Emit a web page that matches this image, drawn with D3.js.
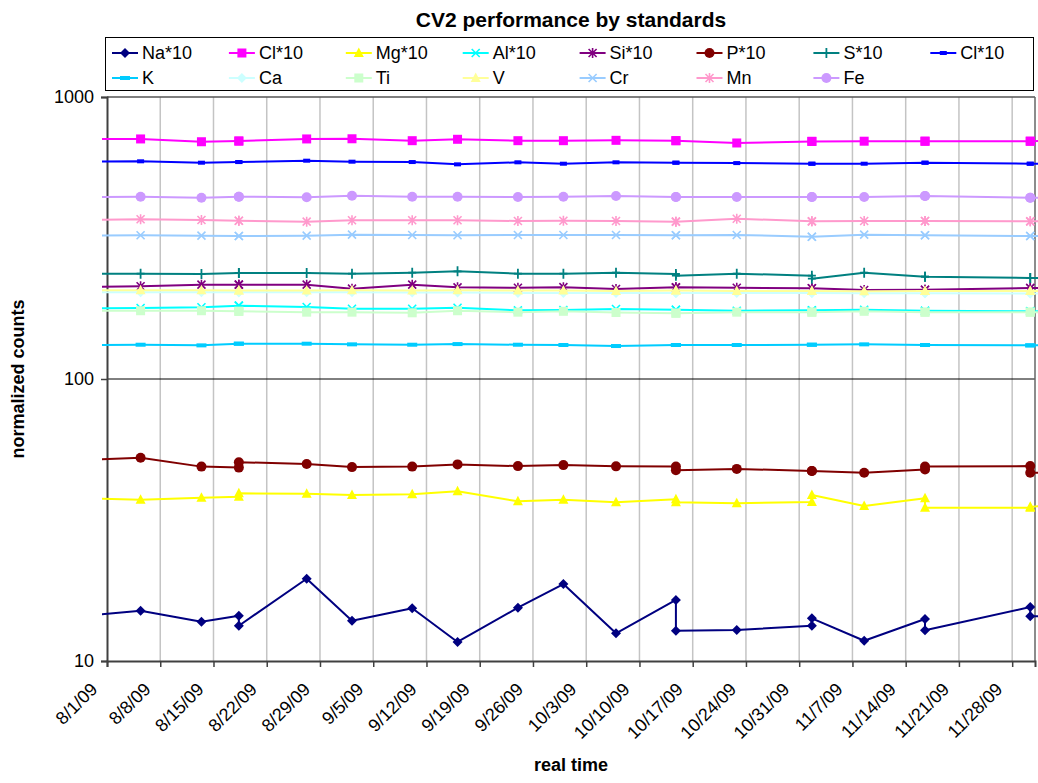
<!DOCTYPE html>
<html>
<head>
<meta charset="utf-8">
<script src="https://cdn.jsdelivr.net/npm/d3@7"></script>
<style>
  html, body { margin: 0; padding: 0; background: #fff; }
  svg { display: block; font-family: "Liberation Sans", Arial, sans-serif; }
</style>
</head>
<body>
<svg id="chart" width="1038" height="783"></svg>
<script>
// ---------------- data ----------------
const chartTitle = "CV2 performance by standards";
const xTitle = "real time";
const yTitle = "normalized counts";

// measurement times (first and last lie just outside the visible window)
const times = [
  "2009-07-29 00:00", "2009-08-05 10:00", "2009-08-13 10:00", "2009-08-18 08:00", "2009-08-18 08:00",
  "2009-08-27 06:00", "2009-09-02 05:00", "2009-09-10 03:00", "2009-09-16 02:00", "2009-09-24 00:30",
  "2009-09-30 00:00", "2009-10-06 22:00", "2009-10-14 19:00", "2009-10-14 19:00", "2009-10-22 19:00",
  "2009-11-01 16:00", "2009-11-01 16:00", "2009-11-08 13:00", "2009-11-16 13:00", "2009-11-16 13:00",
  "2009-11-30 09:00", "2009-11-30 09:00", "2009-12-04 00:00"
];

const seriesNames = ["Na*10", "Cl*10", "Mg*10", "Al*10", "Si*10", "P*10", "S*10", "Cl*10",
                     "K", "Ca", "Ti", "V", "Cr", "Mn", "Fe"];
const seriesColors = ["#000080", "#FF00FF", "#FFFF00", "#00FFFF", "#800080", "#800000", "#008080", "#0000FF",
                      "#00CCFF", "#CCFFFF", "#CCFFCC", "#FFFF99", "#99CCFF", "#FF99CC", "#CC99FF"];
const seriesMarkers = ["diamond", "square", "triangle", "x", "star", "circle", "plus", "dash",
                       "dashWide", "diamond", "square", "triangle", "x", "star", "circle"];

const naValues  = [14.47, 15.08, 13.79, 14.47, 13.34, 19.58, 13.9, 15.38, 11.68, 15.45, 18.75, 12.54, 16.46, 12.8, 12.88, 13.34, 14.17, 11.8, 14.09, 12.85, 15.54, 14.4, 14.4];
const cl1Values = [710, 710, 694, 698, 698, 710, 711, 700, 708, 700, 700, 702, 700, 700, 687, 696, 696, 697, 697, 697, 697, 697, 700];
const mgValues  = [37.76, 37.33, 37.95, 38.25, 39.33, 39.2, 38.8, 39.0, 40.0, 36.84, 37.33, 36.54, 37.48, 36.54, 36.25, 36.63, 38.8, 35.44, 37.76, 34.96, 34.96, 35.2, 35.73];
const alValues  = [178.1, 178.6, 179.6, 182, 182, 180, 177.5, 177.5, 179, 175.2, 175.6, 177.1, 176.1, 176.1, 174.6, 175.2, 175.2, 176.1, 174.6, 174.6, 173.8, 173.8, 173.8];
const siValues  = [212, 213.2, 216, 216, 216, 216, 209.1, 216, 211.4, 210.7, 211.7, 208.5, 211.4, 211.4, 210.7, 209.7, 209.7, 206.8, 207.3, 207.3, 210.2, 210.2, 210.2];
const pValues   = [51.6, 52.6, 48.9, 48.5, 50.7, 49.96, 48.7, 48.9, 49.8, 49.1, 49.5, 49.0, 48.9, 47.5, 48.0, 47.2, 47.2, 46.5, 47.8, 48.9, 49.1, 46.5, 46.5];
const sValues   = [236.3, 236.3, 235.7, 237.6, 237.6, 237.6, 236.3, 238.2, 240.9, 236.3, 236.3, 238.2, 235.7, 232.5, 236.3, 232.5, 226.9, 238.2, 230.6, 230.6, 228.2, 228.2, 228.2];
const cl2Values = [589.7, 591.5, 584.8, 588, 588, 594.5, 589.7, 588, 577, 586.7, 580, 586.7, 584.8, 584.8, 583, 580, 580, 580, 584.8, 584.8, 580, 580, 580];
const kValues   = [132.0, 132.3, 131.6, 133.4, 133.4, 133.4, 132.7, 132.3, 133.0, 132.3, 132.0, 130.9, 132.0, 132.0, 132.0, 132.3, 132.3, 132.7, 132.0, 132.0, 131.6, 131.6, 131.6];
const caValues  = [203, 203, 203, 203, 203, 203, 203, 202.5, 202.5, 202, 202, 202, 202, 202, 202, 202, 202, 201.5, 201.5, 201.5, 201, 201, 201];
const tiValues  = [174.6, 174.6, 174.6, 173.8, 173.8, 172.6, 172.6, 171.7, 174.6, 172.6, 173.8, 172.1, 171.2, 171.2, 172.6, 172.6, 172.6, 173.8, 172.6, 172.6, 172.6, 172.6, 172.6];
const vValues   = [206.6, 206.6, 206.6, 206, 206, 206, 206.6, 206, 206.6, 206, 206, 205.3, 206, 206, 205.3, 205.3, 205.3, 204.6, 205.3, 205.3, 205.3, 205.3, 205.3];
const crValues  = [322.3, 323.3, 322.3, 321.5, 321.5, 322.3, 324.9, 324.1, 323.3, 324.1, 324.1, 324.1, 323.3, 323.3, 324.1, 319.6, 319.6, 324.9, 323.3, 323.3, 321.5, 321.5, 321.5];
const mnValues  = [366.3, 368.4, 366.3, 364.2, 364.2, 361.3, 365.4, 365.4, 365.4, 363.4, 364.2, 363.4, 361.3, 361.3, 370.2, 362.3, 362.3, 363.4, 363.4, 363.4, 362.3, 362.3, 362.3];
const feValues  = [441.9, 443, 439.5, 443, 443, 440.8, 446.7, 443, 443, 441.9, 443, 445.6, 441.9, 441.9, 441.9, 441.9, 441.9, 441.9, 445.6, 445.6, 439.5, 439.5, 439.5];

const seriesValues = [naValues, cl1Values, mgValues, alValues, siValues, pValues, sValues, cl2Values,
                      kValues, caValues, tiValues, vValues, crValues, mnValues, feValues];

const xTickLabels = ["8/1/09", "8/8/09", "8/15/09", "8/22/09", "8/29/09", "9/5/09", "9/12/09", "9/19/09",
  "9/26/09", "10/3/09", "10/10/09", "10/17/09", "10/24/09", "10/31/09", "11/7/09", "11/14/09", "11/21/09", "11/28/09"];
const yTickValues = [10, 100, 1000];
const xDomain = ["8/1/09", "12/1/09"];

// ---------------- layout ----------------
const L = 107, R = 1035, T = 97, B = 661;
const parseTime = d3.timeParse("%Y-%m-%d %H:%M");
const parseTick = d3.timeParse("%m/%d/%y");

const svg = d3.select("#chart");
const x = d3.scaleTime().domain(xDomain.map(parseTick)).range([L, R]);
const y = d3.scaleLog().domain([10, 1000]).range([B, T]);

// vertical gridlines
const tickDates = xTickLabels.map(parseTick);
svg.append("g").selectAll("line").data(tickDates.slice(1)).join("line")
  .attr("x1", d => x(d)).attr("x2", d => x(d)).attr("y1", T).attr("y2", B)
  .attr("stroke", "#c4c4c4").attr("stroke-width", 1.5);

// horizontal gridline(s)
svg.append("g").selectAll("line").data(yTickValues.filter(v => v > 10 && v < 1000)).join("line")
  .attr("x1", L).attr("x2", R).attr("y1", d => y(d)).attr("y2", d => y(d))
  .attr("stroke", "#000").attr("stroke-width", 1);

// plot border (top & right)
svg.append("line").attr("x1", L).attr("x2", R).attr("y1", T).attr("y2", T).attr("stroke", "#555").attr("stroke-width", 1.5);
svg.append("line").attr("x1", R).attr("x2", R).attr("y1", T).attr("y2", B).attr("stroke", "#666").attr("stroke-width", 1.5);

// axes
const xAxis = d3.axisBottom(x).tickValues(tickDates).tickSize(6).tickFormat("");
const gx = svg.append("g").attr("transform", `translate(0,${B})`).call(xAxis);
gx.select(".domain").attr("stroke", "#404040").attr("stroke-width", 2);
gx.selectAll(".tick line").attr("stroke", "#404040").attr("stroke-width", 1.5);

const yAxis = d3.axisLeft(y).tickValues(yTickValues).tickSize(6).tickFormat(d3.format("d"));
const gy = svg.append("g").attr("transform", `translate(${L},0)`).call(yAxis);
gy.select(".domain").attr("stroke", "#404040").attr("stroke-width", 2);
gy.selectAll(".tick line").attr("stroke", "#404040").attr("stroke-width", 1.5);
gy.selectAll(".tick text").attr("font-size", 18).attr("fill", "#000").attr("x", -13)
  .attr("font-family", "Liberation Sans, Arial, sans-serif");

// x tick labels (rotated)
svg.append("g").selectAll("text").data(xTickLabels).join("text")
  .attr("transform", d => `translate(${x(parseTick(d)) - 13},${B + 25}) rotate(-45)`)
  .attr("text-anchor", "end").attr("dy", "0.35em")
  .attr("font-size", 18).attr("fill", "#000")
  .text(d => d);

// titles
svg.append("text").attr("x", (L + R) / 2).attr("y", 27).attr("text-anchor", "middle")
  .attr("font-size", 21).attr("font-weight", "bold").text(chartTitle);
svg.append("text").attr("x", (L + R) / 2).attr("y", 771).attr("text-anchor", "middle")
  .attr("font-size", 18).attr("font-weight", "bold").text(xTitle);
svg.append("text").attr("transform", `translate(24,${(T + B) / 2}) rotate(-90)`).attr("text-anchor", "middle")
  .attr("font-size", 18).attr("font-weight", "bold").text(yTitle);

// ---------------- markers ----------------
function drawMarker(g, type, color) {
  switch (type) {
    case "diamond":
      g.append("path").attr("d", "M0,-5L5,0L0,5L-5,0Z").attr("fill", color); break;
    case "square":
      g.append("rect").attr("x", -4.5).attr("y", -4.5).attr("width", 9).attr("height", 9).attr("fill", color); break;
    case "triangle":
      g.append("path").attr("d", "M0,-5.5L5,4L-5,4Z").attr("fill", color); break;
    case "x":
      g.append("path").attr("d", "M-4,-4L4,4M-4,4L4,-4").attr("stroke", color).attr("stroke-width", 1.6).attr("fill", "none"); break;
    case "star":
      g.append("path").attr("d", "M-4,-4L4,4M-4,4L4,-4M0,-5L0,5").attr("stroke", color).attr("stroke-width", 1.6).attr("fill", "none"); break;
    case "circle":
      g.append("circle").attr("r", 5).attr("fill", color); break;
    case "plus":
      g.append("path").attr("d", "M0,-5L0,5M-4,0L4,0").attr("stroke", color).attr("stroke-width", 1.8).attr("fill", "none"); break;
    case "dash":
      g.append("rect").attr("x", -3.5).attr("y", -2).attr("width", 7).attr("height", 4).attr("fill", color); break;
    case "dashWide":
      g.append("rect").attr("x", -5).attr("y", -2).attr("width", 10).attr("height", 4).attr("fill", color); break;
  }
}

// ---------------- series ----------------
svg.append("defs").append("clipPath").attr("id", "plotClip")
  .append("rect").attr("x", 102).attr("y", T - 10).attr("width", 1039 - 102).attr("height", B - T + 20);

const plot = svg.append("g").attr("clip-path", "url(#plotClip)");
const line = d3.line().x(d => x(d.t)).y(d => y(d.v));

seriesValues.forEach((vals, si) => {
  const pts = vals.map((v, i) => ({ t: parseTime(times[i]), v }));
  const g = plot.append("g");
  g.append("path").datum(pts).attr("d", line)
    .attr("fill", "none").attr("stroke", seriesColors[si]).attr("stroke-width", 2)
    .attr("stroke-linejoin", "round");
  g.selectAll("g.m").data(pts).join("g").attr("class", "m")
    .attr("transform", d => `translate(${x(d.t)},${y(d.v)})`)
    .each(function () { drawMarker(d3.select(this), seriesMarkers[si], seriesColors[si]); });
});

// ---------------- legend ----------------
const legend = svg.append("g");
legend.append("rect").attr("x", 105.5).attr("y", 37.5).attr("width", 928).attr("height", 53)
  .attr("fill", "#fff").attr("stroke", "#000").attr("stroke-width", 1);
seriesNames.forEach((name, i) => {
  const col = i % 8, row = Math.floor(i / 8);
  const tx = 142 + col * 116.9, ty = 53 + row * 25;
  const g = legend.append("g");
  g.append("line").attr("x1", tx - 30).attr("x2", tx - 4).attr("y1", ty).attr("y2", ty)
    .attr("stroke", seriesColors[i]).attr("stroke-width", 2);
  const m = g.append("g").attr("transform", `translate(${tx - 17},${ty})`);
  drawMarker(m, seriesMarkers[i], seriesColors[i]);
  g.append("text").attr("x", tx).attr("y", ty).attr("dy", "0.36em").attr("font-size", 18).text(name);
});
</script>
</body>
</html>
